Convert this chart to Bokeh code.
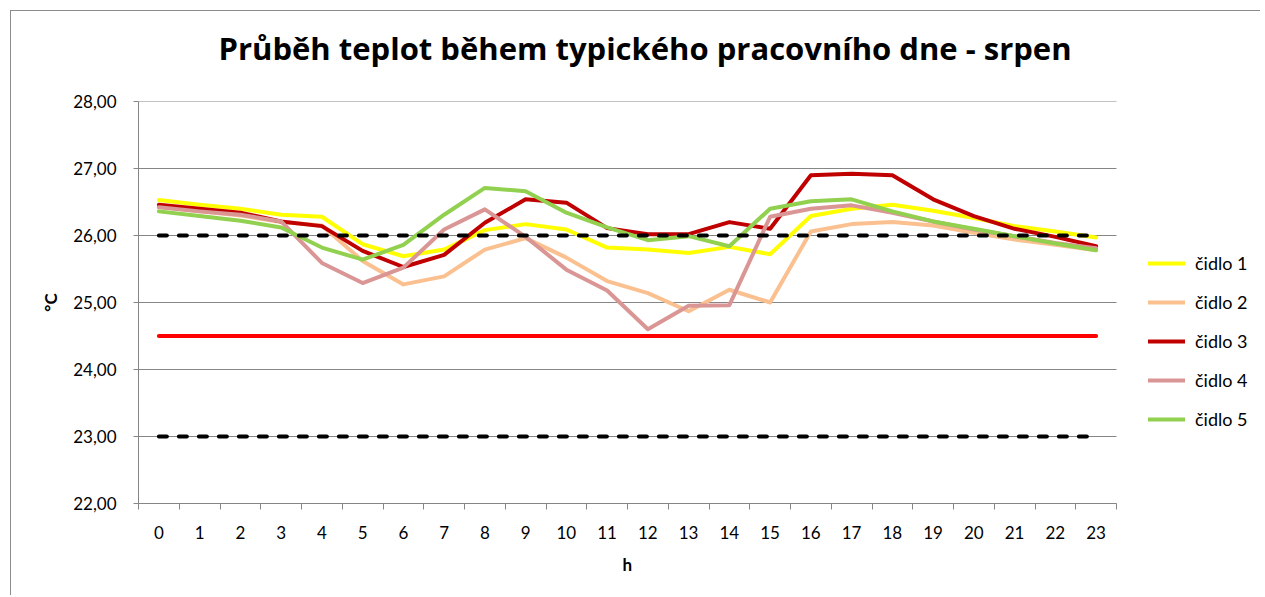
from bokeh.plotting import figure
from bokeh.models import (Legend, LegendItem, FixedTicker, Range1d, Title)
from bokeh.embed import file_html
from bokeh.resources import INLINE

# ---- data ----
hours = list(range(24))
hour_labels = [str(h) for h in hours]
cidlo1 = [26.53, 26.46, 26.40, 26.31, 26.28, 25.87, 25.69, 25.79, 26.08, 26.17, 26.09, 25.82,
          25.79, 25.74, 25.83, 25.72, 26.29, 26.40, 26.46, 26.37, 26.26, 26.14, 26.06, 25.97]
cidlo2 = [26.43, 26.36, 26.30, 26.20, 26.15, 25.62, 25.27, 25.39, 25.79, 25.96, 25.67, 25.32,
          25.14, 24.87, 25.19, 25.00, 26.06, 26.17, 26.20, 26.15, 26.04, 25.94, 25.86, 25.78]
cidlo3 = [26.46, 26.40, 26.34, 26.21, 26.14, 25.77, 25.53, 25.71, 26.19, 26.54, 26.49, 26.11,
          26.02, 26.02, 26.20, 26.10, 26.90, 26.92, 26.90, 26.54, 26.29, 26.10, 25.98, 25.84]
cidlo4 = [26.42, 26.36, 26.31, 26.21, 25.59, 25.29, 25.52, 26.09, 26.39, 25.98, 25.49, 25.18,
          24.60, 24.95, 24.96, 26.28, 26.40, 26.45, 26.34, 26.21, 26.09, 25.99, 25.89, 25.81]
cidlo5 = [26.36, 26.29, 26.22, 26.12, 25.82, 25.64, 25.86, 26.31, 26.71, 26.66, 26.34, 26.12,
          25.93, 25.99, 25.84, 26.40, 26.51, 26.54, 26.36, 26.21, 26.10, 25.99, 25.88, 25.78]
limit_upper = [26.0] * 24
limit_target = [24.5] * 24
limit_lower = [23.0] * 24
series_names = ["čidlo 1", "čidlo 2", "čidlo 3", "čidlo 4", "čidlo 5"]
series_colors = ["#FFFF00", "#FAC090", "#C00000", "#D99694", "#92D050"]
y_ticks = [22, 23, 24, 25, 26, 27, 28]
y_tick_labels = ["22,00", "23,00", "24,00", "25,00", "26,00", "27,00", "28,00"]
title_text = "Průběh teplot během typického pracovního dne - srpen"
x_title = "h"
y_title = "°C"

FONT = "Lato"
GRID = "#868686"

W, H = 1250, 585
LEFT, TOP, BOTTOM = 127, 90, 93
CAT_PX = 978 / 24.0                       # width of one hour category in pixels
x_lo, x_hi = hours[0] - 0.5, hours[-1] + 0.5
x_end = x_lo + (W - LEFT) / CAT_PX         # frame runs on to the right edge to hold the legend

p = figure(width=W, height=H, output_backend="svg", toolbar_location=None,
           x_range=Range1d(x_lo, x_end), y_range=Range1d(y_ticks[0], y_ticks[-1]),
           min_border_left=LEFT, min_border_right=0, min_border_top=TOP, min_border_bottom=BOTTOM)
p.styles = {"border-left": "1px solid #8c8c8c", "border-top": "1px solid #8c8c8c",
            "margin-left": "10px", "margin-top": "10px"}
p.outline_line_color = None
p.background_fill_color = "white"
p.border_fill_color = "white"

# titles: spacer closest to the frame, then main title
p.add_layout(Title(text=" ", text_font_size="1px", standoff=30), "above")
p.add_layout(Title(text=title_text, align="left", offset=80, text_font="Open Sans",
                   text_font_style="bold", text_font_size="31px", text_color="black",
                   standoff=0), "above")

# axes
p.xaxis.ticker = FixedTicker(ticks=hours, minor_ticks=[h - 0.5 for h in hours] + [x_hi])
p.xaxis.bounds = (x_lo, x_hi)
p.xaxis.major_tick_out = 0
p.xaxis.major_tick_in = 0
p.xaxis.minor_tick_out = 6
p.xaxis.minor_tick_in = 0
p.xaxis.minor_tick_line_color = GRID
p.xaxis.axis_line_color = GRID
p.xaxis.major_label_overrides = {h: lab for h, lab in zip(hours, hour_labels)}
p.xaxis.major_label_standoff = 16

p.add_layout(Title(text=x_title, align="left", offset=484, text_font=FONT,
                   text_font_style="bold", text_font_size="17px", text_color="black",
                   vertical_align="top", standoff=24), "below")

p.yaxis.ticker = FixedTicker(ticks=y_ticks, minor_ticks=[])
p.yaxis.bounds = (y_ticks[0], y_ticks[-1])
p.yaxis.major_label_overrides = {t: lab for t, lab in zip(y_ticks, y_tick_labels)}
p.yaxis.major_tick_out = 5
p.yaxis.major_tick_in = 0
p.yaxis.major_tick_line_color = GRID
p.yaxis.axis_line_color = GRID
p.yaxis.major_label_standoff = 17
p.yaxis.axis_label = y_title
p.yaxis.axis_label_text_font = FONT
p.yaxis.axis_label_text_font_style = "bold"
p.yaxis.axis_label_text_font_size = "17px"
p.yaxis.axis_label_standoff = 9

for ax in (p.xaxis, p.yaxis):
    ax.major_label_text_font = FONT
    ax.major_label_text_font_size = "17px"
    ax.major_label_text_color = "black"
    ax.axis_label_text_color = "black"

p.xgrid.visible = False
p.ygrid.visible = False
# horizontal gridlines limited to the hour categories
p.segment(x0=[x_lo] * len(y_ticks), x1=[x_hi] * len(y_ticks), y0=y_ticks, y1=y_ticks,
          line_color=GRID, line_width=1)

# series
renderers = []
for vals, col in zip([cidlo1, cidlo2, cidlo3, cidlo4, cidlo5], series_colors):
    r = p.line(hours, vals, line_color=col, line_width=4, line_cap="round", line_join="round")
    renderers.append(r)

# reference lines
p.line(hours, limit_target, line_color="#FF0000", line_width=4, line_cap="round")
p.line(hours, limit_upper, line_color="black", line_width=4, line_cap="round", line_dash="8 12")
p.line(hours, limit_lower, line_color="black", line_width=4, line_cap="round", line_dash="8 12")

legend = Legend(items=[LegendItem(label=n, renderers=[r]) for n, r in zip(series_names, renderers)],
                location=(1010, 73), orientation="vertical",
                label_text_font=FONT, label_text_font_size="18px", label_text_color="black",
                glyph_width=37, glyph_height=20, label_height=20, label_standoff=10,
                spacing=17, padding=0, margin=0,
                border_line_color=None, background_fill_alpha=0)
p.add_layout(legend, "center")

open("out.html", "w").write(file_html(p, INLINE))
